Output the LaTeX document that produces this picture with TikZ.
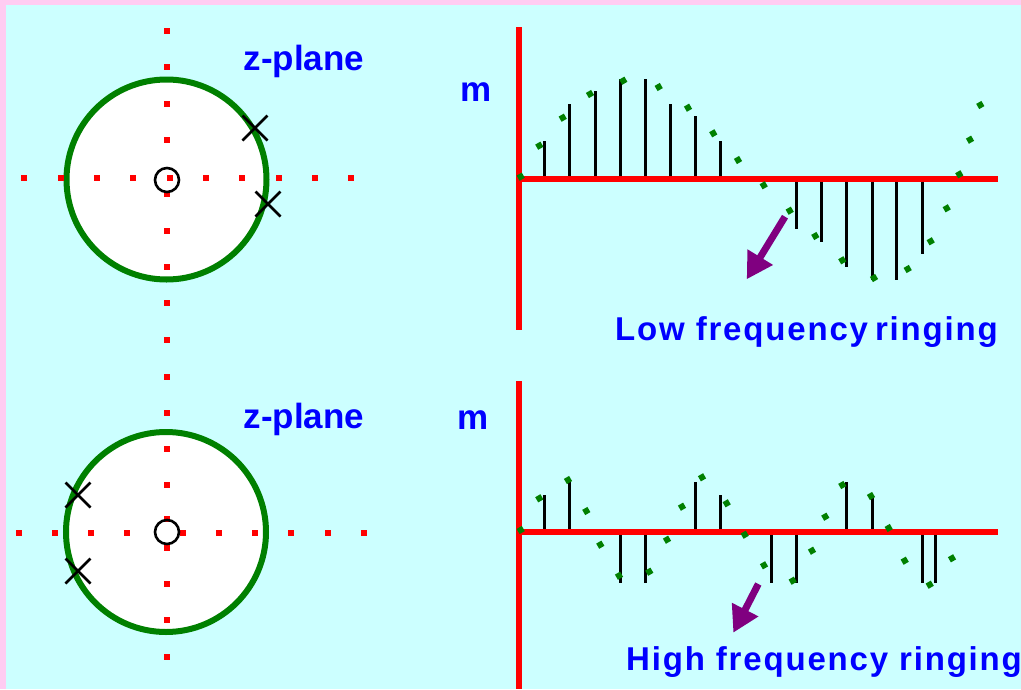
\documentclass[tikz,border=0pt]{standalone}
\usepackage{fontspec}
\setmainfont{Liberation Sans}
\usetikzlibrary{arrows.meta}
\definecolor{PanelCyan}{HTML}{CCFFFF}
\definecolor{EdgePink}{HTML}{FFCCF2}
\definecolor{CircleGreen}{HTML}{008000}
\definecolor{AxisRed}{HTML}{FF0000}
\definecolor{LabelBlue}{HTML}{0000FF}
\definecolor{ArrowPurple}{HTML}{800080}
\tikzset{
  unitcirc/.style={draw=CircleGreen,fill=white,line width=6pt},
  axdot/.style={fill=AxisRed},
  zeromark/.style={draw=black,line width=2.6pt},
  polemark/.style={draw=black,line width=2.6pt},
  raxis/.style={draw=AxisRed,line width=6pt},
  stemline/.style={draw=black,line width=3pt},
  gdot/.style={fill=CircleGreen},
  ringarrow/.style={draw=ArrowPurple,line width=7pt,-{Triangle[length=26pt,width=28pt]}},
  zlabel/.style={font=\fontsize{35}{40}\selectfont\bfseries,text=LabelBlue,
    inner sep=0pt,anchor=base},
  ringlabel/.style={font=\fontsize{33}{36}\selectfont\bfseries\addfontfeatures{LetterSpace=5.5},
    text=LabelBlue,inner sep=0pt,anchor=base west},
}

\begin{document}
\begin{tikzpicture}[x=1pt,y=-1pt]
  \fill[EdgePink] (0,0) rectangle (1021,689);
  \fill[PanelCyan] (6,5) rectangle (1021,689);
  \useasboundingbox (0,0) rectangle (1021,689);
  % z-planes
  \draw[unitcirc] (166.5,179.5) circle[radius=100];
  \draw[unitcirc] (166,532) circle[radius=100];
  \foreach \x in {24,61,97,133,170,206,242,279,315,351}
    \fill[axdot] (\x-3,178-3) rectangle ++(6,6);
  \foreach \x in {19,55,91,127,183,219,255,291,328,364}
    \fill[axdot] (\x-3,533-3) rectangle ++(6,6);
  \foreach \y in {31,67,104,140,194,231,267,303,340,377,413,449,485,519,548,584,620,657}
    \fill[axdot] (167-3,\y-3) rectangle ++(6,6);
  \draw[zeromark] (167,180) circle[radius=12];
  \draw[zeromark] (167,532) circle[radius=12];
  \foreach \x/\y in {255/128,268/204,78/495,78/571}
    \draw[polemark] (\x-12.5,\y-12.5) -- (\x+12.5,\y+12.5)
                    (\x-12.5,\y+12.5) -- (\x+12.5,\y-12.5);
  \node[zlabel] (ztop) at (304,70) {z-plane};
  \node[zlabel] (zbot) at (304,428) {z-plane};
  % low frequency response
  \foreach \x/\y in {544.3/141.3,569.7/103.7,595/91.3,620/79,645.3/79,670.3/103.7,
      695.7/116.3,720.7/141.3,796.3/229.3,821.3/242,846.7/267.3,872/280,896.7/280,922.3/254.3}
    \draw[stemline] (\x,179) -- (\x,\y);
  \coordinate (lowtop) at (519,27);
  \coordinate (lowbot) at (519,330);
  \coordinate (lowo) at (519,179);
  \coordinate (lowend) at (998,179);
  \draw[raxis] (lowtop) -- (lowbot);
  \draw[raxis] (lowo) -- (lowend);
  \foreach \x/\y in {520.7/176.7,539.3/145.7,562.7/117.7,590/94,623.3/80.7,658.7/87,
      688/107.7,713.3/133.3,738/160,763.7/185.3,789.7/210.7,815.3/236,842.3/260.3,
      874/278,907.7/269,930.7/241.3,946.7/208.3,959.3/174.3,970/139.7,980.3/105}
    \fill[gdot,rotate around={30:(\x,\y)}] (\x-3,\y-3) rectangle ++(6,6);
  \coordinate (lowa) at (785,216.7);
  \coordinate (lowb) at (746.7,279.3);
  \draw[ringarrow] (lowa) -- (lowb);
  \node[zlabel] (mtop) at (476,101) {m};
  \node[ringlabel] (lowlbl) at (615,340) {Low frequency\hspace{-4pt} ringing};
  % high frequency response
  \foreach \x/\y in {544.3/494.7,569.7/481.7,620/582.7,645/582.7,695.7/482.3,720.7/494.7,
      771/582.7,796.3/582.7,846.7/482.3,872/494.7,922.3/582.7,935/582.7}
    \draw[stemline] (\x,532) -- (\x,\y);
  \coordinate (hightop) at (519,381);
  \coordinate (highbot) at (519,689);
  \coordinate (higho) at (519,532);
  \coordinate (highend) at (998,532);
  \draw[raxis] (hightop) -- (highbot);
  \draw[raxis] (higho) -- (highend);
  \foreach \x/\y in {520.7/530,539.3/498.3,568/480,586.3/511,600.3/544.7,619/575.7,
      649.3/571.7,667/539.7,682/506.7,702/477.3,726.7/503.3,744.7/534.7,764/565.3,
      792.7/580.7,812/550.7,825.3/516.7,842.3/485,871/496,888.7/528,904.7/560.7,
      929.7/584.7,952/558.3}
    \fill[gdot,rotate around={30:(\x,\y)}] (\x-3,\y-3) rectangle ++(6,6);
  \coordinate (higha) at (758.3,584);
  \coordinate (highb) at (733.3,632.7);
  \draw[ringarrow] (higha) -- (highb);
  \node[zlabel] (mbot) at (473,429) {m};
  \node[ringlabel] (highlbl) at (626,670.7) {High frequency ringing};
\end{tikzpicture}
\end{document}
